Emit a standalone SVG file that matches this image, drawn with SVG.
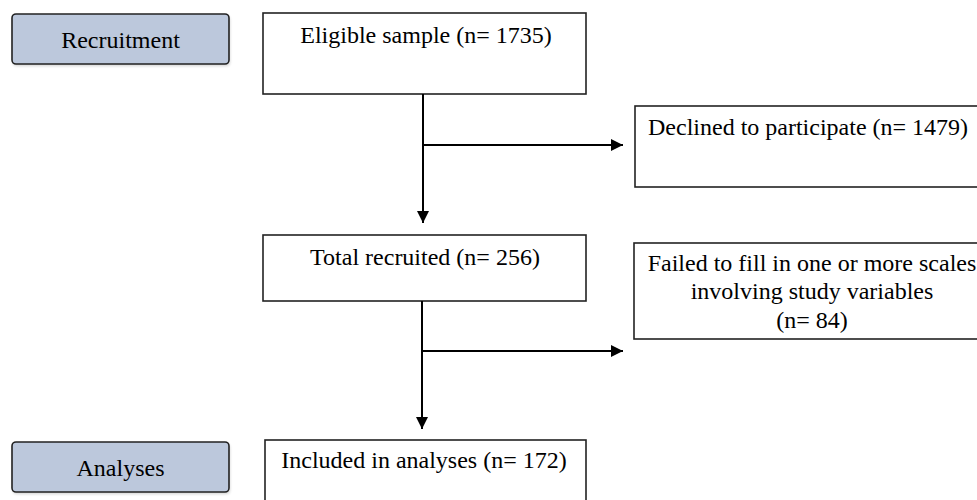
<svg xmlns="http://www.w3.org/2000/svg" width="977" height="500" viewBox="0 0 977 500">
<defs>
<style>
text{font-family:"Liberation Serif","Times New Roman",serif;font-size:24px;fill:#000}
.c{text-anchor:middle}
.box{fill:#fff;stroke:#222;stroke-width:1.6}
.stage{fill:#bcc8dc;stroke:#222;stroke-width:1.6}
.shadow{fill:#000;opacity:0.18}
.ln{fill:none;stroke:#000;stroke-width:2}
</style>
<marker id="ah" viewBox="0 0 12 12" refX="12" refY="6" markerWidth="12" markerHeight="12" markerUnits="userSpaceOnUse" orient="auto">
<path d="M0,0 L12,6 L0,12 Z" fill="#000"/>
</marker>
<filter id="blur" x="-10%" y="-20%" width="120%" height="160%"><feGaussianBlur stdDeviation="1.5"/></filter>
</defs>
<g id="recruitment">
<rect class="shadow" x="13" y="16" width="217" height="50" rx="4" filter="url(#blur)"/>
<rect class="stage" x="12" y="14" width="217" height="50" rx="4"/>
<text class="c" x="120.5" y="48">Recruitment</text>
</g>
<g id="analyses">
<rect class="shadow" x="13" y="444" width="217" height="50" rx="4" filter="url(#blur)"/>
<rect class="stage" x="12" y="442" width="217" height="50" rx="4"/>
<text class="c" x="120.5" y="476">Analyses</text>
</g>
<g id="eligible">
<rect class="box" x="263" y="13" width="323" height="81"/>
<text class="c" x="426" y="43">Eligible sample (n= 1735)</text>
</g>
<g id="declined">
<rect class="box" x="635" y="106" width="360" height="81"/>
<text x="648" y="135">Declined to participate (n= 1479)</text>
</g>
<g id="total">
<rect class="box" x="263" y="235" width="323" height="66"/>
<text class="c" x="425" y="265">Total recruited (n= 256)</text>
</g>
<g id="failed">
<rect class="box" x="634" y="243" width="360" height="96"/>
<text class="c" x="812" y="271">Failed to fill in one or more scales</text>
<text class="c" x="812" y="299">involving study variables</text>
<text class="c" x="812" y="328">(n= 84)</text>
</g>
<g id="included">
<rect class="box" x="265" y="440" width="321" height="80"/>
<text class="c" x="424" y="468">Included in analyses (n= 172)</text>
</g>
<g id="connectors">
<path class="ln" d="M423,94 V223" marker-end="url(#ah)"/>
<path class="ln" d="M423,145 H623" marker-end="url(#ah)"/>
<path class="ln" d="M422,301 V429" marker-end="url(#ah)"/>
<path class="ln" d="M422,351 H623" marker-end="url(#ah)"/>
</g>
</svg>
